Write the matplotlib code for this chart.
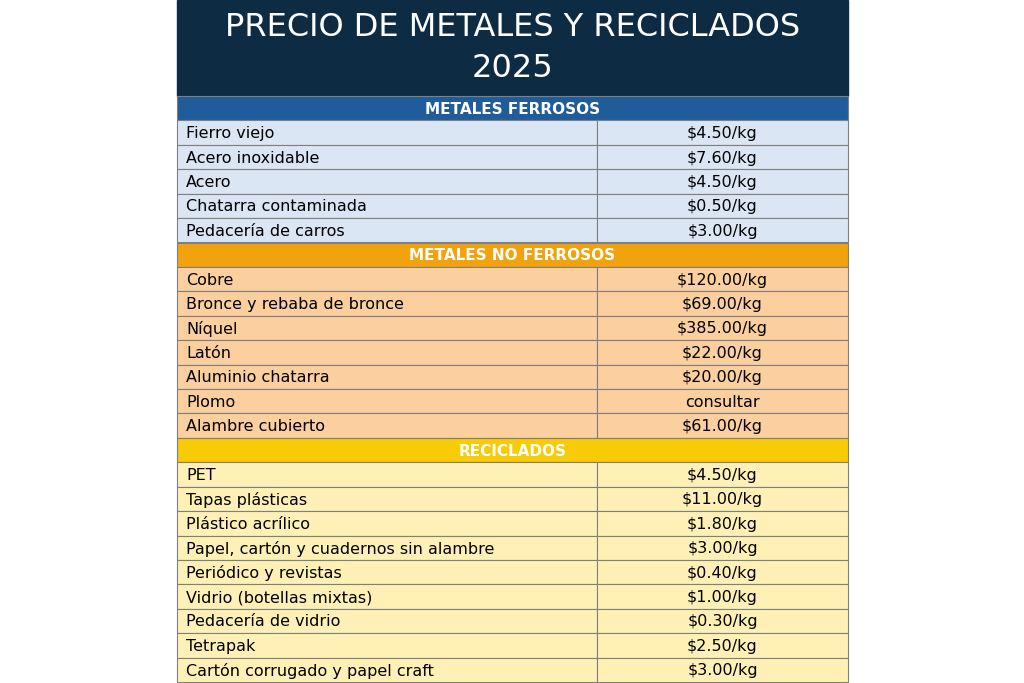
import matplotlib.pyplot as plt
from matplotlib.patches import Rectangle

title = "PRECIO DE METALES Y RECICLADOS\n2025"
sections = ["METALES FERROSOS", "METALES NO FERROSOS", "RECICLADOS"]
ferrosos = ["Fierro viejo", "Acero inoxidable", "Acero", "Chatarra contaminada", "Pedacería de carros"]
ferrosos_precio = ["$4.50/kg", "$7.60/kg", "$4.50/kg", "$0.50/kg", "$3.00/kg"]
no_ferrosos = ["Cobre", "Bronce y rebaba de bronce", "Níquel", "Latón", "Aluminio chatarra", "Plomo", "Alambre cubierto"]
no_ferrosos_precio = ["$120.00/kg", "$69.00/kg", "$385.00/kg", "$22.00/kg", "$20.00/kg", "consultar", "$61.00/kg"]
reciclados = ["PET", "Tapas plásticas", "Plástico acrílico", "Papel, cartón y cuadernos sin alambre",
              "Periódico y revistas", "Vidrio (botellas mixtas)", "Pedacería de vidrio", "Tetrapak",
              "Cartón corrugado y papel craft"]
reciclados_precio = ["$4.50/kg", "$11.00/kg", "$1.80/kg", "$3.00/kg", "$0.40/kg", "$1.00/kg", "$0.30/kg",
                     "$2.50/kg", "$3.00/kg"]

groups = [(ferrosos, ferrosos_precio), (no_ferrosos, no_ferrosos_precio), (reciclados, reciclados_precio)]
head_colors = ["#1f5c99", "#f2a20c", "#f7cb05"]
row_colors = ["#dae6f4", "#fbcf9e", "#fff1b5"]

fig = plt.figure(figsize=(10.24, 6.83), dpi=100)
ax = fig.add_axes([0, 0, 1, 1])
ax.set_xlim(0, 1024)
ax.set_ylim(683, 0)
ax.axis("off")

X0, X1, XM = 177, 848, 597
ax.add_patch(Rectangle((X0, 0), X1 - X0, 96, color="#0d2c44"))
ax.text((X0 + X1) / 2, 48, title, color="white", ha="center", va="center",
        fontsize=23, family="DejaVu Sans", linespacing=1.45)

h = (682 - 96) / 24
y = 96
for (names, prices), hc, rc, sec in zip(groups, head_colors, row_colors, sections):
    ax.add_patch(Rectangle((X0, y), X1 - X0, h, facecolor=hc, edgecolor="#7f7f7f", lw=0.8))
    ax.text((X0 + X1) / 2, y + h / 2 + 1, sec, color="white", ha="center", va="center",
            fontsize=11, fontweight="bold")
    y += h
    for n, p in zip(names, prices):
        ax.add_patch(Rectangle((X0, y), XM - X0, h, facecolor=rc, edgecolor="#7f7f7f", lw=0.8))
        ax.add_patch(Rectangle((XM, y), X1 - XM, h, facecolor=rc, edgecolor="#7f7f7f", lw=0.8))
        ax.text(X0 + 9, y + h / 2 + 1, n, ha="left", va="center", fontsize=11.5, color="black")
        ax.text((XM + X1) / 2, y + h / 2 + 1, p, ha="center", va="center", fontsize=11.5, color="black")
        y += h

fig.savefig("out.png", dpi=100)
